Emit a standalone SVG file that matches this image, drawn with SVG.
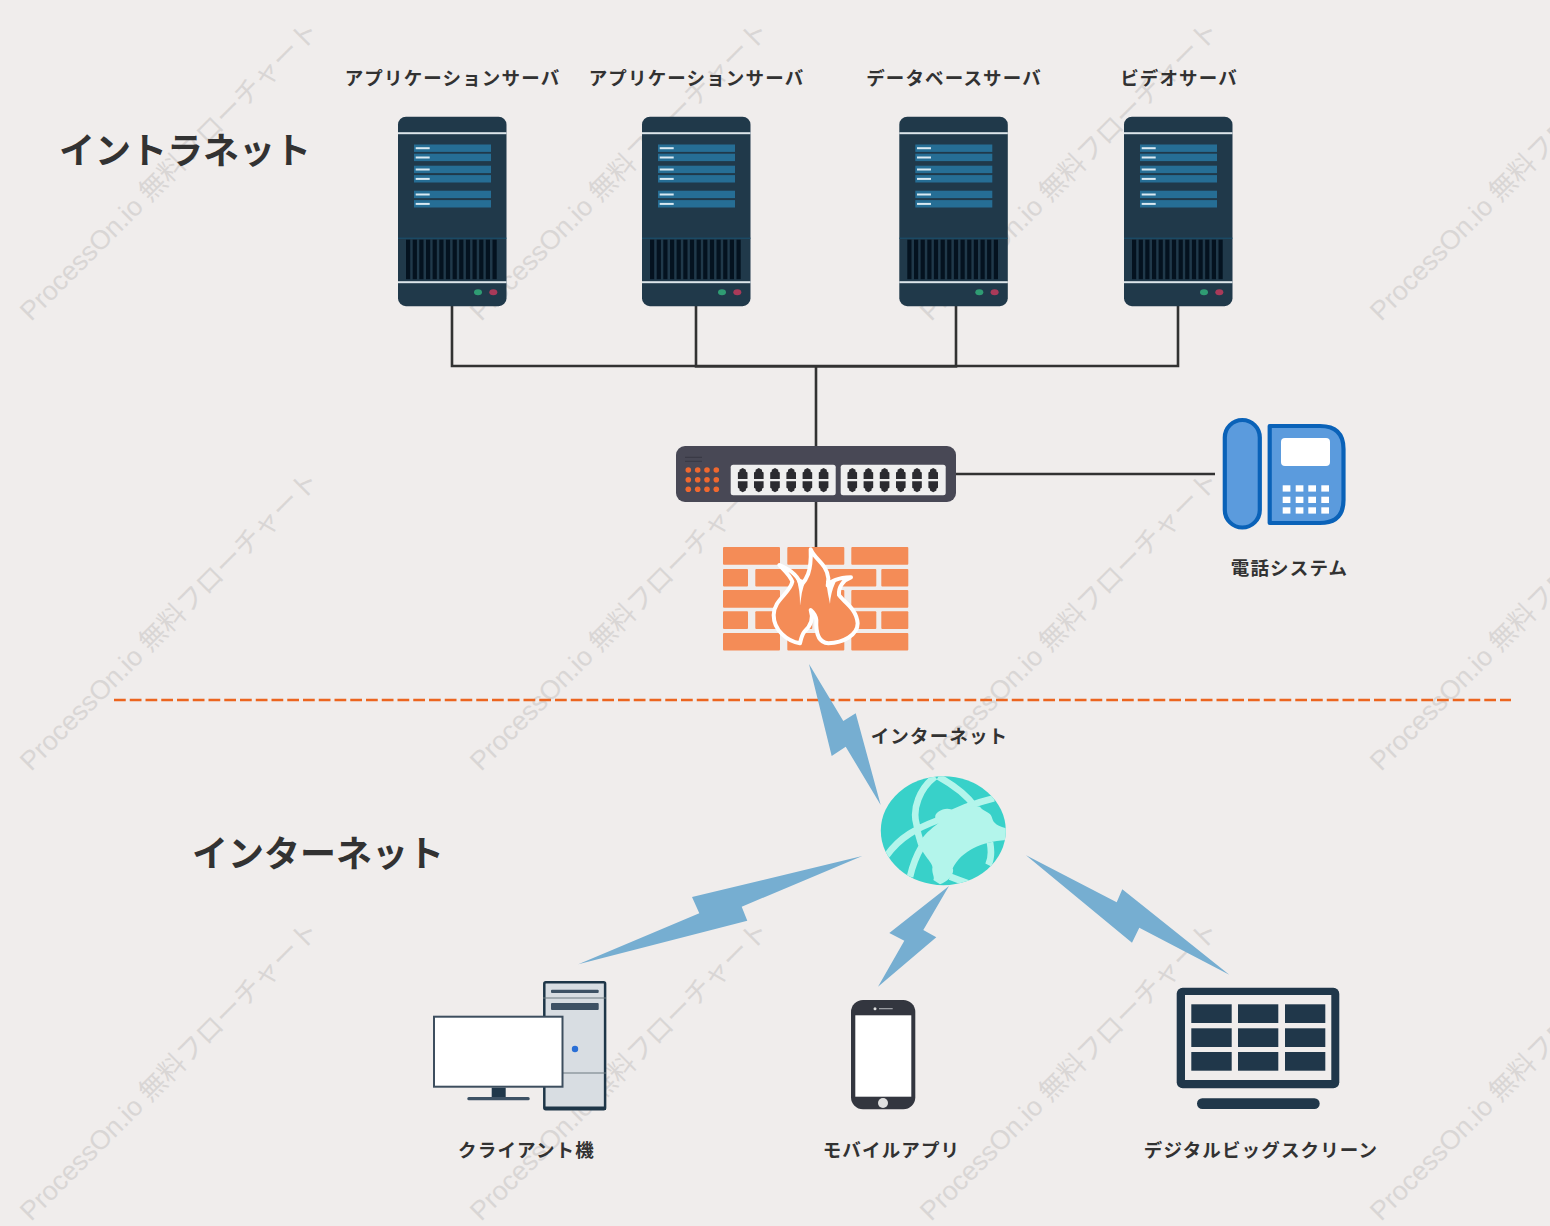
<svg xmlns="http://www.w3.org/2000/svg" xmlns:xlink="http://www.w3.org/1999/xlink" width="1550" height="1226" viewBox="0 0 1550 1226">
<style>
text{font-family:"Noto Sans CJK JP","Noto Sans",sans-serif;fill:#323232;font-weight:700}
.lbl{font-size:18.5px;text-anchor:middle;letter-spacing:1.15px}
.ttl{font-size:36px}
.wm{font-family:"Liberation Sans","Noto Sans CJK JP",sans-serif;font-size:26.8px;fill:#d9d6d5;font-weight:400}
.conn{fill:none;stroke:#323232;stroke-width:2.6}
.bolt{fill:#76aed1}
.port{fill:#2b2b30}
.dot{fill:#f0682f}
.brick{fill:#f48c57}
.row{fill:#266e95}
.dash{fill:#d9e9f2}
.bar{fill:#04121f}
.key{fill:#fff}
.cell{fill:#20374a}
.arc{fill:none;stroke:#b3f5eb;stroke-width:20}
</style>
<defs>
<g id="server">
<rect width="108.500" height="189.500" rx="8" fill="#20394a"/>
<rect y="15.500" width="108.500" height="2" fill="#dce5ea"/>
<g class="row"><rect x="16" y="27.800" width="77" height="7.400"/><rect x="16" y="37" width="77" height="7.400"/><rect x="16" y="49" width="77" height="7.400"/><rect x="16" y="58.400" width="77" height="7.400"/><rect x="16" y="74" width="77" height="7.400"/><rect x="16" y="83.400" width="77" height="7.400"/></g>
<g class="dash"><rect x="17.700" y="30.500" width="14" height="2"/><rect x="17.700" y="39.800" width="14" height="2"/><rect x="17.700" y="51.800" width="14" height="2"/><rect x="17.700" y="61.200" width="14" height="2"/><rect x="17.700" y="76.800" width="14" height="2"/><rect x="17.700" y="86.200" width="14" height="2"/></g>
<rect y="121" width="108.500" height="1" fill="#1a5270"/>
<g class="bar"><rect x="8" y="123" width="4.200" height="39.500"/><rect x="14.700" y="123" width="4.200" height="39.500"/><rect x="21.300" y="123" width="4.200" height="39.500"/><rect x="28" y="123" width="4.200" height="39.500"/><rect x="34.600" y="123" width="4.200" height="39.500"/><rect x="41.300" y="123" width="4.200" height="39.500"/><rect x="47.900" y="123" width="4.200" height="39.500"/><rect x="54.600" y="123" width="4.200" height="39.500"/><rect x="61.200" y="123" width="4.200" height="39.500"/><rect x="67.900" y="123" width="4.200" height="39.500"/><rect x="74.500" y="123" width="4.200" height="39.500"/><rect x="81.200" y="123" width="4.200" height="39.500"/><rect x="87.800" y="123" width="4.200" height="39.500"/><rect x="94.500" y="123" width="4.200" height="39.500"/></g>
<rect y="164.500" width="108.500" height="2" fill="#dce5ea"/>
<ellipse cx="80" cy="175.500" rx="4" ry="3" fill="#2f9c73"/>
<ellipse cx="95.300" cy="175.500" rx="4" ry="3" fill="#a93a59"/>
</g>
<g id="portpair">
<path class="port" d="M-4.800 11V4.500L-3.200 3.500V1.800L0 0L3.200 1.800V3.500L4.800 4.500V11Z"/>
<path class="port" d="M-4.800 13.300V19.800L-3.200 20.800V22.500L0 24.300L3.200 22.500V20.800L4.800 19.800V13.300Z"/>
</g>
<g id="ports">
<use xlink:href="#portpair" x="0"/><use xlink:href="#portpair" x="16.100"/><use xlink:href="#portpair" x="32.300"/><use xlink:href="#portpair" x="48.500"/><use xlink:href="#portpair" x="64.700"/><use xlink:href="#portpair" x="80.900"/>
</g>
<clipPath id="gc"><ellipse cx="943.300" cy="830.700" rx="62.500" ry="54.500"/></clipPath>
</defs>
<rect width="1550" height="1226" fill="#f0edec"/>
<g id="watermarks">
<text class="wm" transform="translate(31,322) rotate(-45)">ProcessOn.io 無料フローチャート</text>
<text class="wm" transform="translate(481,322) rotate(-45)">ProcessOn.io 無料フローチャート</text>
<text class="wm" transform="translate(931,322) rotate(-45)">ProcessOn.io 無料フローチャート</text>
<text class="wm" transform="translate(1381,322) rotate(-45)">ProcessOn.io 無料フローチャート</text>
<text class="wm" transform="translate(31,772) rotate(-45)">ProcessOn.io 無料フローチャート</text>
<text class="wm" transform="translate(481,772) rotate(-45)">ProcessOn.io 無料フローチャート</text>
<text class="wm" transform="translate(931,772) rotate(-45)">ProcessOn.io 無料フローチャート</text>
<text class="wm" transform="translate(1381,772) rotate(-45)">ProcessOn.io 無料フローチャート</text>
<text class="wm" transform="translate(31,1222) rotate(-45)">ProcessOn.io 無料フローチャート</text>
<text class="wm" transform="translate(481,1222) rotate(-45)">ProcessOn.io 無料フローチャート</text>
<text class="wm" transform="translate(931,1222) rotate(-45)">ProcessOn.io 無料フローチャート</text>
<text class="wm" transform="translate(1381,1222) rotate(-45)">ProcessOn.io 無料フローチャート</text>
</g>
<g id="connectors">
<path class="conn" d="M452 306V366H816M696 306V366.500H816M956 306V366.500H816M1178 306V366H816M816 366V447M816 502V547M956 474H1215"/>
<path d="M114 700H1511" fill="none" stroke="#ec651f" stroke-width="2.700" stroke-dasharray="11.750 4"/>
<polygon class="bolt" points="809,664 843.300,721 855.700,713.300 880.700,805 845.700,746.700 831.700,756"/>
<polygon class="bolt" points="862.300,856 741.700,906.700 747.300,920.700 578.300,964.300 699.300,913.300 692,897"/>
<polygon class="bolt" points="949,886 923.300,930 936.300,937.300 878,986.700 904.300,940.700 889.300,933"/>
<polygon class="bolt" points="1026,855.300 1116.700,902.300 1122.300,889.300 1229.300,974.700 1139.300,927.700 1132,942.700"/>
</g>
<g id="title-intranet"><text class="ttl" x="59" y="164">イントラネット</text></g>
<g id="title-internet"><text class="ttl" x="192" y="867">インターネット</text></g>
<g id="server1"><use xlink:href="#server" x="398" y="116.700"/><text class="lbl" x="452.500" y="85">アプリケーションサーバ</text></g>
<g id="server2"><use xlink:href="#server" x="642" y="116.700"/><text class="lbl" x="696.500" y="85">アプリケーションサーバ</text></g>
<g id="server3"><use xlink:href="#server" x="899.300" y="116.700"/><text class="lbl" x="954" y="85">データベースサーバ</text></g>
<g id="server4"><use xlink:href="#server" x="1124" y="116.700"/><text class="lbl" x="1179" y="85">ビデオサーバ</text></g>
<g id="switch">
<rect x="676" y="446" width="280" height="56" rx="9" fill="#484855"/>
<path d="M685 457.300H702M685 461.300H702" stroke="#33333d" stroke-width=".8"/>
<g class="dot"><circle cx="688.300" cy="470" r="2.800"/><circle cx="697.700" cy="470" r="2.800"/><circle cx="707" cy="470" r="2.800"/><circle cx="716.300" cy="470" r="2.800"/><circle cx="688.300" cy="479.700" r="2.800"/><circle cx="697.700" cy="479.700" r="2.800"/><circle cx="707" cy="479.700" r="2.800"/><circle cx="716.300" cy="479.700" r="2.800"/><circle cx="688.300" cy="489.300" r="2.800"/><circle cx="697.700" cy="489.300" r="2.800"/><circle cx="707" cy="489.300" r="2.800"/><circle cx="716.300" cy="489.300" r="2.800"/></g>
<rect x="730.700" y="464.700" width="105" height="30.600" rx="2.500" fill="#efefef"/>
<rect x="840.700" y="464.700" width="105" height="30.600" rx="2.500" fill="#efefef"/>
<use xlink:href="#ports" x="742.700" y="468"/>
<use xlink:href="#ports" x="852.300" y="468"/>
</g>
<g id="firewall">
<g class="brick">
<rect x="723" y="547" width="57" height="17.700" rx="1"/><rect x="787.300" y="547" width="57" height="17.700" rx="1"/><rect x="851.300" y="547" width="57" height="17.700" rx="1"/>
<rect x="723" y="569" width="25" height="17.500" rx="1"/><rect x="755.300" y="569" width="57" height="17.500" rx="1"/><rect x="819.300" y="569" width="57" height="17.500" rx="1"/><rect x="881.300" y="569" width="27" height="17.500" rx="1"/>
<rect x="723" y="590" width="57" height="17.700" rx="1"/><rect x="787.300" y="590" width="57" height="17.700" rx="1"/><rect x="851.300" y="590" width="57" height="17.700" rx="1"/>
<rect x="723" y="611.300" width="25" height="17.700" rx="1"/><rect x="755.300" y="611.300" width="57" height="17.700" rx="1"/><rect x="819.300" y="611.300" width="57" height="17.700" rx="1"/><rect x="881.300" y="611.300" width="27" height="17.700" rx="1"/>
<rect x="723" y="633" width="57" height="17.500" rx="1"/><rect x="787.300" y="633" width="57" height="17.500" rx="1"/><rect x="851.300" y="633" width="57" height="17.500" rx="1"/>
</g>
<g transform="translate(715,540) scale(.33333)">
<path d="M287 28C300 60 335 70 340 115C340 125 340 130 338 137C350 118 380 113 408 112C385 120 370 140 372 165C385 185 425 205 428 250C428 285 385 308 340 310C312 308 302 280 304 240C302 225 295 217 287 210C298 240 282 262 268 275C260 285 258 298 255 310C215 303 176 270 176 225C176 180 225 160 232 125C225 105 205 88 193 75C225 88 250 105 258 137C272 120 290 100 287 28Z" fill="#f48c57" stroke="#fff" stroke-width="12" stroke-linejoin="round"/>
<path d="M243 112Q256 150 255 197Q258 160 270 122ZM333 122Q338 160 345 192Q346 160 362 125Z" fill="#fff"/>
</g>
</g>
<g id="phone">
<rect x="1224.800" y="420" width="35" height="107.500" rx="17.500" fill="#5b9bdd" stroke="#0a62b8" stroke-width="4.200"/>
<path d="M1269.700 426H1320Q1343.500 426 1343.500 449V500Q1343.500 523 1320 523H1269.700Z" fill="#5b9bdd" stroke="#0a62b8" stroke-width="4.200" stroke-linejoin="round"/>
<rect x="1281" y="438" width="49" height="28" rx="4" fill="#fff"/>
<g class="key"><rect x="1282.700" y="485.300" width="7.700" height="6.300"/><rect x="1295.700" y="485.300" width="7.700" height="6.300"/><rect x="1308.300" y="485.300" width="7.700" height="6.300"/><rect x="1321.300" y="485.300" width="7.700" height="6.300"/><rect x="1282.700" y="496.700" width="7.700" height="6.300"/><rect x="1295.700" y="496.700" width="7.700" height="6.300"/><rect x="1308.300" y="496.700" width="7.700" height="6.300"/><rect x="1321.300" y="496.700" width="7.700" height="6.300"/><rect x="1282.700" y="507.300" width="7.700" height="6.300"/><rect x="1295.700" y="507.300" width="7.700" height="6.300"/><rect x="1308.300" y="507.300" width="7.700" height="6.300"/><rect x="1321.300" y="507.300" width="7.700" height="6.300"/></g>
<text class="lbl" x="1289.500" y="575">電話システム</text>
</g>
<g id="globe">
<ellipse cx="943.300" cy="830.700" rx="62.500" ry="54.500" fill="#38d1c9"/>
<g clip-path="url(#gc)"><g transform="translate(870,765) scale(.33333)">
<path class="arc" d="M195 35C150 70 125 130 140 180C143 210 150 225 155 240M205 35C250 60 290 90 315 125M50 272C90 215 140 190 205 165C260 135 310 115 372 100M120 335C128 300 140 270 155 245M360 232C365 260 365 280 355 300M240 335C265 345 280 350 295 355"/>
<path d="M145 238C160 210 185 190 205 175C195 165 190 150 205 140C220 130 240 128 250 138C270 128 295 120 330 125C340 140 360 140 365 155C370 170 372 180 410 190L410 225C370 228 340 235 310 250C285 262 260 285 248 310C255 325 235 350 210 358L190 345C195 335 185 325 187 310C190 300 175 285 165 270C155 255 150 248 145 238Z" fill="#b3f5eb"/>
</g></g>
</g>
<text class="lbl" x="939.500" y="743" id="label-internet">インターネット</text>
<g id="client">
<rect x="544.300" y="982.200" width="60.800" height="127" rx="1.500" fill="#d8dde2" stroke="#1e3648" stroke-width="2.500"/>
<rect x="544" y="1106.500" width="62" height="3.500" fill="#1e3648"/>
<rect x="551" y="989.700" width="47.700" height="3.300" rx="1" fill="#3d5164"/>
<rect x="551" y="1003" width="47.700" height="7" rx="1" fill="#3d5164"/>
<path d="M543 998H606M563 1073H606" stroke="#6d7b80" stroke-width="1.200"/>
<circle cx="575" cy="1049" r="3.200" fill="#2a6fd6"/>
<rect x="434" y="1016.700" width="128.500" height="70" fill="#fff" stroke="#3d4e5e" stroke-width="2"/>
<rect x="491.700" y="1087.700" width="14" height="9.500" fill="#20374a"/>
<rect x="467.300" y="1097" width="62.400" height="3.300" rx="1.500" fill="#3d5164"/>
<text class="lbl" x="526.500" y="1157">クライアント機</text>
</g>
<g id="mobile">
<rect x="851" y="1000" width="64.300" height="109.300" rx="12" fill="#33363f"/>
<rect x="855.300" y="1015.300" width="56" height="81.400" fill="#fff"/>
<circle cx="883" cy="1103" r="5" fill="#e0e0e0"/>
<circle cx="875" cy="1008.700" r="1.500" fill="#e0e0e0"/>
<rect x="879" y="1008" width="13.700" height="1.300" fill="#9a9ca2"/>
<text class="lbl" x="891.500" y="1157">モバイルアプリ</text>
</g>
<g id="bigscreen">
<rect x="1176.700" y="987.700" width="162.600" height="100.600" rx="6" fill="#20374a"/>
<rect x="1185" y="995" width="146.300" height="85" fill="#f0edec"/>
<g class="cell"><rect x="1191.300" y="1004.300" width="40.400" height="18.700"/><rect x="1238" y="1004.300" width="40.300" height="18.700"/><rect x="1285" y="1004.300" width="40.300" height="18.700"/><rect x="1191.300" y="1028.300" width="40.400" height="18.700"/><rect x="1238" y="1028.300" width="40.300" height="18.700"/><rect x="1285" y="1028.300" width="40.300" height="18.700"/><rect x="1191.300" y="1052" width="40.400" height="18.700"/><rect x="1238" y="1052" width="40.300" height="18.700"/><rect x="1285" y="1052" width="40.300" height="18.700"/></g>
<rect x="1197" y="1098.300" width="122.700" height="10.700" rx="5.300" fill="#20374a"/>
<text class="lbl" x="1261" y="1157">デジタルビッグスクリーン</text>
</g>
</svg>
